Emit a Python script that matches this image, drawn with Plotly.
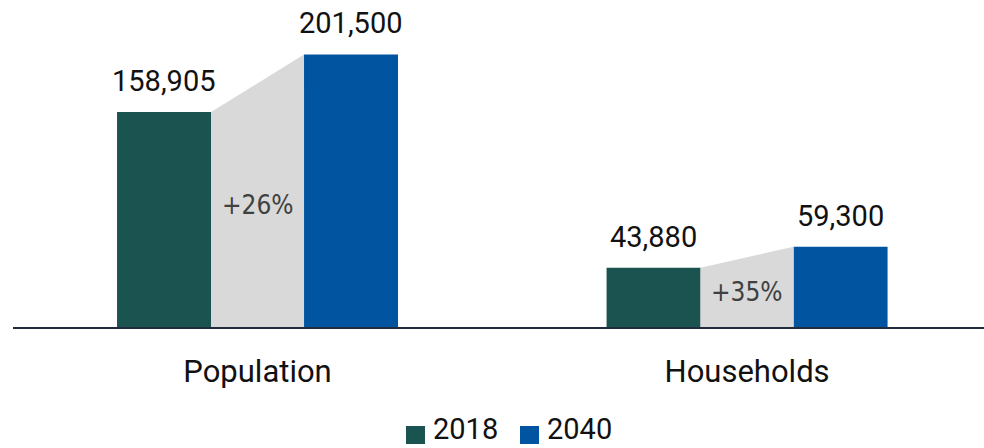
import plotly.graph_objects as go

# Values
categories = ["Population", "Households"]
years = ["2018", "2040"]
values_2018 = [158905, 43880]
values_2040 = [201500, 59300]
growth_labels = ["+26%", "+35%"]

colors = {"2018": "#1B5350", "2040": "#0054A0"}
gap_color = "#D9D9D9"
font_main = "Roboto"
font_narrow = "Liberation Sans Narrow, DejaVu Sans Condensed, sans-serif"

bar_w = 0.192
off_2018 = -0.287
off_2040 = 0.095

x_pos = list(range(len(categories)))

# Plot-area geometry in pixels (used to place the custom legend)
W, H = 984, 448
ML, MB = 13, 121
plot_w, plot_h = W - ML, H - MB


def px_x(px):
    return (px - ML) / plot_w


def px_y(py):
    return (plot_h - py) / plot_h


fig = go.Figure()

# Grey connectors between the two bars of each group
for i, (a, b) in enumerate(zip(values_2018, values_2040)):
    xl = x_pos[i] + off_2018 + bar_w
    xr = x_pos[i] + off_2040
    fig.add_trace(go.Scatter(
        x=[xl, xl, xr, xr, xl], y=[0, a, b, 0, 0],
        fill="toself", fillcolor=gap_color, mode="lines",
        line=dict(width=0, color=gap_color), hoverinfo="skip", showlegend=False,
    ))

for yr, vals, off in [("2018", values_2018, off_2018), ("2040", values_2040, off_2040)]:
    fig.add_trace(go.Bar(
        x=x_pos, y=vals, name=yr, width=bar_w, offset=off,
        marker=dict(color=colors[yr], line=dict(width=0)),
        showlegend=False,
    ))
    for i, v in enumerate(vals):
        fig.add_annotation(
            x=x_pos[i] + off + bar_w / 2, y=v, text=f"{v:,}",
            showarrow=False, yanchor="middle", yshift=31,
            font=dict(family=font_main, size=29, color="#111111"),
        )

for i, (a, b) in enumerate(zip(values_2018, values_2040)):
    fig.add_annotation(
        x=x_pos[i], y=(a + b) / 4, text=growth_labels[i], showarrow=False,
        font=dict(family=font_narrow, size=26, color="#404040"),
    )

# Legend: square swatch + year label
legend_items = [(years[0], 406), (years[1], 520)]
for yr, left in legend_items:
    fig.add_shape(
        type="rect", xref="paper", yref="paper",
        x0=px_x(left), x1=px_x(left + 19), y0=px_y(444), y1=px_y(426),
        fillcolor=colors[yr], line=dict(width=0),
    )
    fig.add_annotation(
        xref="paper", yref="paper", x=px_x(left + 25), y=px_y(448),
        xanchor="left", yanchor="bottom", text=yr, showarrow=False,
        font=dict(family=font_main, size=29, color="#111111"),
    )

fig.update_layout(
    width=W, height=H,
    margin=dict(l=ML, r=0, t=0, b=MB),
    plot_bgcolor="white", paper_bgcolor="white",
    barmode="overlay",
    showlegend=False,
    xaxis=dict(
        range=[-0.4995, 1.484], tickvals=x_pos, ticktext=categories,
        showline=True, linecolor="#1F2D3D", linewidth=2,
        showgrid=False, zeroline=False, ticks="",
        ticklabelstandoff=16,
        tickfont=dict(family=font_main, size=31, color="#111111"),
    ),
    yaxis=dict(
        range=[0, 241700], visible=False, showgrid=False, zeroline=False,
    ),
)

fig.write_html("out.html")
